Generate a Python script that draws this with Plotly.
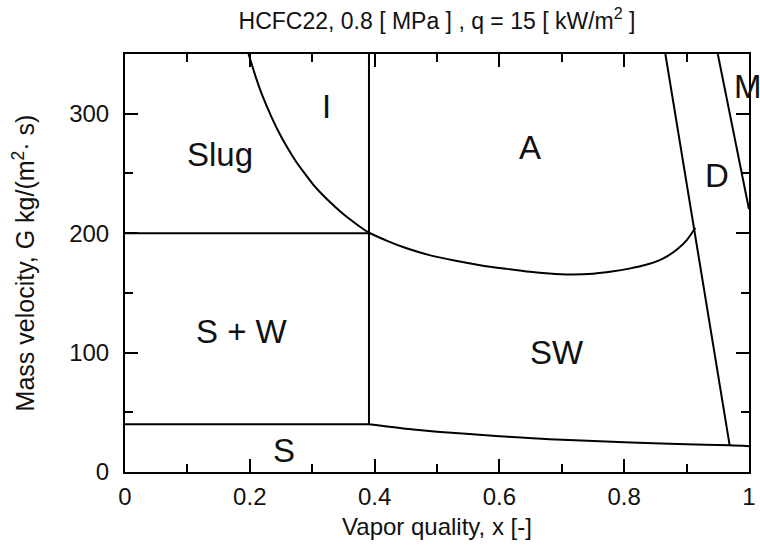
import plotly.graph_objects as go

# Boundary lines (x: vapor quality, G: mass velocity)
slug_I_x = [0.198, 0.210, 0.221, 0.235, 0.248, 0.262, 0.274, 0.288, 0.302, 0.315, 0.328, 0.345, 0.361, 0.376, 0.391]
slug_I_G = [350, 330, 314, 297, 283, 270, 260, 250, 240.5, 233, 226.3, 218.2, 211.4, 205.6, 200.3]

a_sw_x = [0.391, 0.420, 0.450, 0.488, 0.530, 0.569, 0.610, 0.649, 0.680, 0.713, 0.750, 0.780, 0.810, 0.835, 0.855, 0.870, 0.885, 0.900, 0.914]
a_sw_G = [200.3, 193.5, 187.5, 181.6, 176.8, 173.2, 170.2, 167.6, 166.2, 165.4, 166.0, 167.8, 170.5, 173.5, 177.0, 181.0, 186.5, 194.0, 204.5]

s_curve_x = [0.391, 0.45, 0.5, 0.6, 0.68, 0.8, 0.9, 0.969, 1.0]
s_curve_G = [40, 36.3, 33.8, 30.0, 27.4, 25.0, 23.2, 22.3, 21.5]

slug_sw_x = [0.0, 0.391]
slug_sw_G = [200, 200]

sw_s_x = [0.0, 0.391]
sw_s_G = [40, 40]

vert_x = [0.391, 0.391]
vert_G = [40, 350]

d_left_x = [0.866, 0.969]
d_left_G = [350, 22.3]

m_x = [0.950, 1.0]
m_G = [350, 220]

# Region labels
label_text = ["I", "Slug", "A", "D", "M", "S + W", "SW", "S"]
label_x = [0.323, 0.152, 0.649, 0.948, 0.998, 0.187, 0.692, 0.255]
label_G = [306, 266, 272, 248.6, 322.6, 117.3, 100, 18.2]

x_tickvals = [0, 0.2, 0.4, 0.6, 0.8, 1]
x_ticktext = ["0", "0.2", "0.4", "0.6", "0.8", "1"]
y_tickvals = [0, 100, 200, 300]
y_ticktext = ["0", "100", "200", "300"]

FONT = "Liberation Sans, Arial, Helvetica, sans-serif"

fig = go.Figure()

def add_line(xs, ys, spline=False):
    fig.add_trace(go.Scatter(
        x=xs, y=ys, mode="lines",
        line=dict(color="black", width=2, shape="spline" if spline else "linear",
                  smoothing=0.8),
        showlegend=False, hoverinfo="skip", cliponaxis=True,
    ))

add_line(slug_I_x, slug_I_G, spline=True)
add_line(a_sw_x, a_sw_G, spline=True)
add_line(s_curve_x, s_curve_G, spline=True)
add_line(slug_sw_x, slug_sw_G)
add_line(sw_s_x, sw_s_G)
add_line(vert_x, vert_G)
add_line(d_left_x, d_left_G)
add_line(m_x, m_G)

for t, x, y in zip(label_text, label_x, label_G):
    fig.add_annotation(x=x, y=y, text=t, showarrow=False,
                       font=dict(family=FONT, size=33, color="#111"),
                       xanchor="center", yanchor="middle")

fig.update_layout(
    width=760, height=553,
    margin=dict(l=125, r=11, t=54, b=81),
    paper_bgcolor="white", plot_bgcolor="white",
    font=dict(family=FONT, color="#111", size=24),
    title=dict(text="HCFC22, 0.8 [ MPa ] , q = 15 [ kW/m<sup>2</sup> ]",
               xref="paper", x=0.5, xanchor="center", y=0.963, yanchor="middle",
               font=dict(size=23, family=FONT, color="#111")),
)

fig.update_xaxes(
    range=[0, 1], tickvals=x_tickvals, ticktext=x_ticktext,
    ticks="inside", ticklen=13, tickwidth=2, tickcolor="black",
    showline=True, linewidth=2, linecolor="black", mirror="ticks",
    showgrid=False, zeroline=False, automargin=False,
    minor=dict(dtick=0.1, ticks="inside", ticklen=8, tickwidth=2, tickcolor="black", showgrid=False),
    tickfont=dict(size=24, family=FONT),
    title=dict(text="Vapor quality, x [-]", font=dict(size=24, family=FONT), standoff=9),
    ticklabelstandoff=2,
)
fig.update_yaxes(
    range=[0, 350], tickvals=y_tickvals, ticktext=y_ticktext,
    ticks="inside", ticklen=13, tickwidth=2, tickcolor="black",
    showline=True, linewidth=2, linecolor="black", mirror="ticks",
    showgrid=False, zeroline=False, automargin=False,
    minor=dict(dtick=50, ticks="inside", ticklen=8, tickwidth=2, tickcolor="black", showgrid=False),
    tickfont=dict(size=24, family=FONT),
    title=dict(text="Mass velocity, G kg/(m<sup>2</sup>· s)", font=dict(size=25, family=FONT), standoff=27),
    ticklabelstandoff=9,
)

fig.write_html("out.html")
